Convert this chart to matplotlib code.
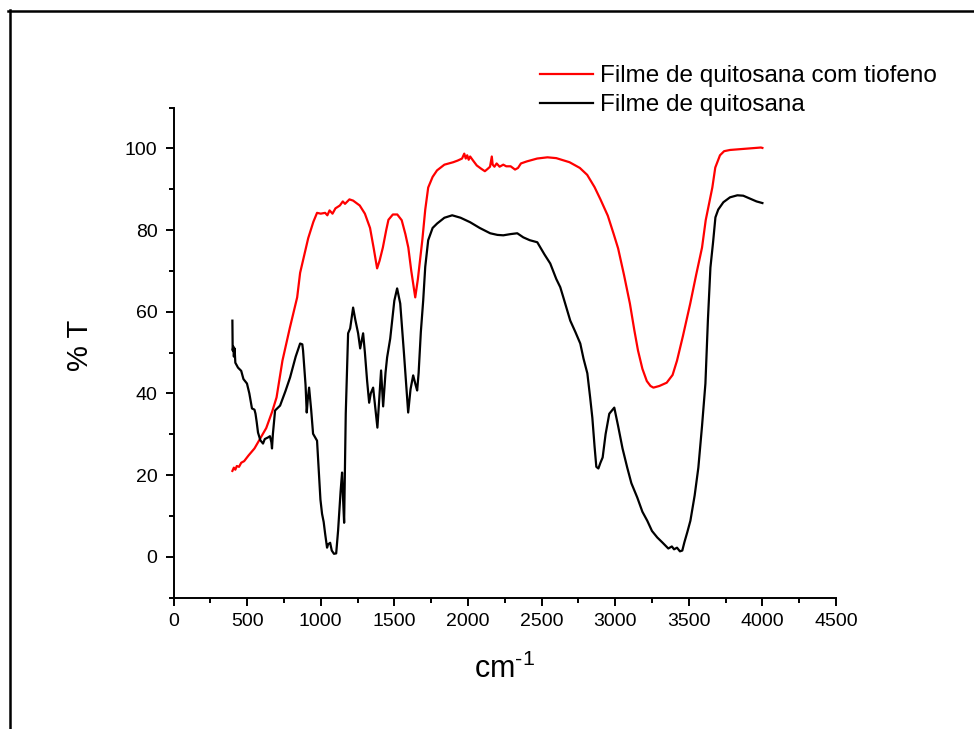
import numpy as np
import matplotlib
matplotlib.use('Agg')
import matplotlib.pyplot as plt
from matplotlib.lines import Line2D
from matplotlib.ticker import MultipleLocator

plt.rcParams['font.family'] = ['Liberation Sans', 'DejaVu Sans']
plt.rcParams['mathtext.fontset'] = 'custom'
plt.rcParams['mathtext.rm'] = 'Liberation Sans'

# espectro FTIR - filme de quitosana com tiofeno (vermelho)
wn_tiofeno = [400, 410, 420, 430, 445, 460, 480, 510, 550, 590, 630, 670, 700, 740,
              790, 840, 860, 915, 950, 975, 1000, 1030, 1045, 1060, 1080, 1100, 1130,
              1150, 1165, 1195, 1220, 1265, 1300, 1335, 1360, 1383, 1400, 1422, 1445,
              1460, 1490, 1520, 1550, 1575, 1595, 1615, 1642, 1660, 1690, 1710, 1730,
              1760, 1790, 1840, 1900, 1930, 1960, 1975, 1985, 1995, 2005, 2015, 2035,
              2060, 2090, 2115, 2135, 2150, 2162, 2168, 2180, 2195, 2215, 2240, 2260,
              2290, 2320, 2340, 2360, 2400, 2470, 2540, 2600, 2690, 2760, 2810, 2860,
              2900, 2950, 2990, 3020, 3060, 3100, 3130, 3155, 3185, 3215, 3240, 3260,
              3300, 3350, 3390, 3420, 3460, 3510, 3550, 3590, 3615, 3660, 3680, 3712,
              3740, 3780, 3850, 3920, 3990, 4000]
t_tiofeno = [21.0, 21.8, 21.3, 22.2, 22.0, 23.0, 23.4, 24.8, 26.5, 29.0, 31.5, 35.5,
             39.0, 48.0, 56.0, 63.5, 69.5, 78.0, 82.0, 84.2, 84.0, 84.2, 83.6, 84.8,
             84.0, 85.3, 86.0, 87.0, 86.4, 87.5, 87.2, 86.0, 84.0, 80.5, 75.5, 70.6,
             72.5, 75.7, 80.0, 82.5, 83.8, 83.8, 82.4, 79.0, 75.7, 70.0, 63.5, 68.0,
             77.5, 85.0, 90.4, 93.0, 94.6, 96.0, 96.6, 97.0, 97.5, 98.7, 97.5, 98.3,
             97.2, 98.0, 97.0, 95.8, 95.0, 94.4, 95.0, 95.5, 98.0, 96.0, 95.5, 96.3,
             95.5, 96.0, 95.6, 95.6, 94.8, 95.2, 96.3, 96.8, 97.5, 97.8, 97.6, 96.6,
             95.2, 93.5, 90.5, 87.5, 83.5, 79.0, 75.5, 69.0, 62.0, 55.5, 50.5, 46.0,
             43.0, 41.8, 41.4, 41.8, 42.6, 44.5, 48.0, 54.0, 62.0, 69.0, 75.7, 82.4,
             90.4, 95.3, 98.3, 99.3, 99.6, 99.8, 100.0, 100.2, 100.1]

# espectro FTIR - filme de quitosana (preto)
wn_quitosana = [400, 402, 406, 410, 415, 420, 438, 460, 475, 499, 515, 533, 550, 557,
                565, 574, 590, 608, 620, 642, 655, 665, 669, 675, 690, 724, 760, 792,
                830, 860, 875, 880, 897, 905, 912, 921, 935, 948, 975, 985, 998, 1009,
                1020, 1030, 1043, 1050, 1064, 1075, 1090, 1105, 1118, 1135, 1145, 1152,
                1159, 1170, 1186, 1200, 1220, 1235, 1254, 1268, 1288, 1300, 1315, 1329,
                1340, 1356, 1375, 1385, 1400, 1410, 1424, 1440, 1451, 1472, 1500, 1519,
                1540, 1565, 1585, 1594, 1610, 1628, 1645, 1655, 1665, 1680, 1696, 1710,
                1730, 1760, 1791, 1840, 1893, 1950, 2015, 2080, 2151, 2200, 2240, 2290,
                2335, 2376, 2420, 2471, 2520, 2559, 2600, 2627, 2648, 2695, 2730, 2763,
                2785, 2811, 2830, 2845, 2860, 2872, 2886, 2900, 2915, 2935, 2960, 2994,
                3020, 3050, 3082, 3110, 3150, 3185, 3218, 3250, 3286, 3320, 3361, 3385,
                3400, 3420, 3440, 3456, 3470, 3490, 3511, 3540, 3565, 3590, 3613, 3630,
                3647, 3665, 3681, 3700, 3735, 3780, 3830, 3870, 3915, 3960, 4000]
t_quitosana = [57.8, 50.5, 51.5, 49.0, 51.0, 47.5, 46.3, 45.5, 43.5, 42.4, 40.0, 36.3,
               36.0, 35.0, 33.0, 30.4, 28.5, 27.7, 28.8, 29.2, 29.5, 28.0, 26.5, 30.0,
               35.8, 37.0, 40.5, 43.9, 49.0, 52.2, 52.0, 50.5, 42.0, 35.3, 38.5, 41.4,
               36.0, 30.1, 28.4, 22.0, 14.0, 10.5, 8.5, 5.6, 2.2, 3.0, 3.4, 1.5, 0.7,
               0.8, 6.4, 16.0, 20.6, 14.0, 8.3, 35.0, 54.7, 55.9, 61.0, 58.0, 54.7,
               51.0, 54.7, 50.0, 43.1, 37.7, 40.0, 41.4, 35.0, 31.6, 40.0, 45.6, 36.8,
               45.0, 48.8, 53.4, 62.7, 65.7, 62.0, 50.0, 40.0, 35.3, 41.0, 44.4, 42.0,
               40.7, 45.0, 55.0, 62.7, 71.0, 77.5, 80.5, 81.6, 83.0, 83.6, 83.0, 81.9,
               80.5, 79.2, 78.8, 78.7, 79.0, 79.2, 78.2, 77.5, 77.0, 74.0, 71.8, 68.0,
               66.0, 63.5, 57.8, 55.0, 52.2, 48.5, 44.9, 39.0, 34.0, 27.0, 22.0, 21.6,
               23.0, 24.3, 30.0, 35.0, 36.5, 32.0, 26.5, 21.8, 18.0, 14.5, 11.0, 8.8,
               6.3, 4.7, 3.5, 2.0, 2.5, 1.8, 2.2, 1.3, 1.5, 3.5, 6.0, 8.8, 15.0, 21.8,
               32.0, 42.4, 58.0, 70.8, 77.0, 83.1, 85.0, 86.8, 88.0, 88.5, 88.4, 87.7,
               87.0, 86.6]

labels = ['Filme de quitosana com tiofeno', 'Filme de quitosana']

fig = plt.figure(figsize=(9.74, 7.29), dpi=100, facecolor='white')
ax = fig.add_axes([173.5 / 974, 1 - 597.5 / 729, 662.5 / 974, 490 / 729])

ax.plot(wn_tiofeno, t_tiofeno, color='#ff0000', lw=1.6, label=labels[0])
ax.plot(wn_quitosana, t_quitosana, color='black', lw=1.6, label=labels[1])

ax.set_xlim(0, 4500)
ax.set_ylim(-10, 110)
ax.xaxis.set_major_locator(MultipleLocator(500))
ax.xaxis.set_minor_locator(MultipleLocator(250))
ax.yaxis.set_major_locator(MultipleLocator(20))
ax.yaxis.set_minor_locator(MultipleLocator(10))

for s in ['top', 'right']:
    ax.spines[s].set_visible(False)
for s in ['left', 'bottom']:
    ax.spines[s].set_linewidth(1.4)

ax.tick_params(which='major', direction='out', length=6, width=1.4, labelsize=14, pad=5)
ax.tick_params(which='minor', direction='out', length=3.5, width=1.4)
ax.tick_params(axis='y', which='major', pad=5.5)

ax.set_xlabel(r'cm$^{\text{-1}}$', fontsize=22)
ax.xaxis.set_label_coords(0.5, -0.115)
ax.set_ylabel('% T', fontsize=21)
ax.yaxis.set_label_coords(-0.12, 0.515)

ax.legend(loc='upper left', bbox_to_anchor=(540 / 974, 1 - 65 / 729),
          bbox_transform=fig.transFigure, frameon=False, fontsize=17.5,
          borderpad=0, borderaxespad=0, handlelength=2.2, handletextpad=0.25,
          labelspacing=0.3)

# moldura da figura
fig.add_artist(Line2D([8 / 974, 1], [1 - 11 / 729, 1 - 11 / 729],
                      transform=fig.transFigure, color='black', lw=1.8))
fig.add_artist(Line2D([9.5 / 974, 9.5 / 974], [0, 1 - 10 / 729],
                      transform=fig.transFigure, color='black', lw=1.8))

fig.savefig('out.png', dpi=100, facecolor='white')
